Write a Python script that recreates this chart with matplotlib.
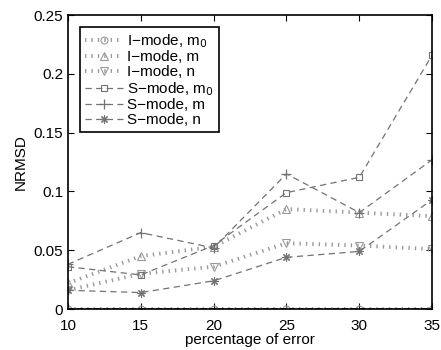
import numpy as np
import matplotlib
matplotlib.use('Agg')
import matplotlib.pyplot as plt

plt.rcParams['font.family'] = ['Liberation Sans', 'DejaVu Sans']

err = [10, 15, 20, 25, 30, 35]
i_m0 = [0, 0, 0, 0, 0, 0]
i_m = [0.022, 0.045, 0.053, 0.085, 0.082, 0.079]
i_n = [0.016, 0.030, 0.036, 0.056, 0.054, 0.051]
s_m0 = [0.036, 0.029, 0.054, 0.099, 0.112, 0.216]
s_m = [0.038, 0.065, 0.052, 0.115, 0.082, 0.127]
s_n = [0.016, 0.014, 0.024, 0.044, 0.049, 0.093]

fig = plt.figure(figsize=(4.41, 3.5), dpi=100)
ax = fig.add_axes([0.154, 0.117, 0.826, 0.84])

g = '0.6'
dot = (0, (0.35, 1.3))
d = '0.45'
dash = (0, (5, 3.5))
ast = (8, 2, 0)
ax.plot(err, i_m0, color=g, ls=dot, lw=2.8, dash_capstyle='butt', marker='o', mfc='none', ms=5, mew=0.8, label='I\u2212mode, m$_0$')
ax.plot(err, i_m, color=g, ls=dot, lw=2.8, dash_capstyle='butt', marker='^', mfc='none', ms=6, mew=0.8, label='I\u2212mode, m')
ax.plot(err, i_n, color=g, ls=dot, lw=2.8, dash_capstyle='butt', marker='v', mfc='none', ms=6, mew=0.8, label='I\u2212mode, n')
ax.plot(err, s_m0, color=d, ls=dash, lw=0.9, marker='s', mfc='none', ms=5, mew=0.8, label='S\u2212mode, m$_0$')
ax.plot(err, s_m, color=d, ls=dash, lw=0.9, marker='+', ms=7, mew=0.9, label='S\u2212mode, m')
ax.plot(err, s_n, color=d, ls=dash, lw=0.9, marker=ast, ms=6, mew=0.8, label='S\u2212mode, n')
ax.plot(err, i_m0, '--', color='k', lw=1.2)

ax.set_xlim(10, 35)
ax.set_ylim(0, 0.25)
ax.set_xticks(err)
ax.set_yticks([0, 0.05, 0.1, 0.15, 0.2, 0.25])
ax.set_yticklabels(['0', '0.05', '0.1', '0.15', '0.2', '0.25'])
ax.tick_params(direction='in', top=True, right=True, labelsize=11, length=4)
ax.tick_params(axis='x', pad=7)
for s in ax.spines.values():
    s.set_linewidth(1.2)
ax.set_xlabel('percentage of error', fontsize=11, labelpad=0)
ax.set_ylabel('NRMSD', fontsize=11, labelpad=4)

leg = ax.legend(loc='upper left', fontsize=11, fancybox=False, framealpha=1,
                edgecolor='k', handlelength=2.5, borderpad=0.3, labelspacing=0.05,
                handletextpad=0.3, borderaxespad=0.8)
leg.get_frame().set_linewidth(1.2)

fig.savefig('out.png', dpi=100)
